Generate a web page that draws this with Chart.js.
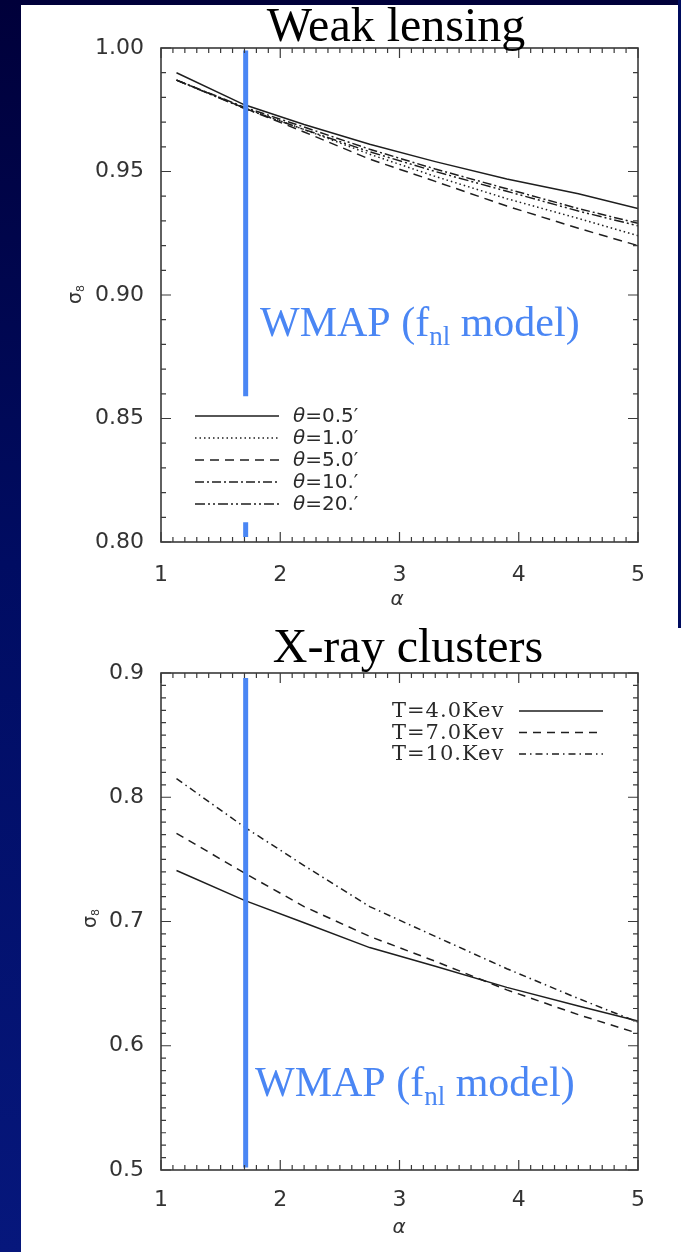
<!DOCTYPE html>
<html>
<head>
<meta charset="utf-8">
<script src="https://cdn.jsdelivr.net/npm/chart.js@4.4.1/dist/chart.umd.min.js"></script>
<style>
    html, body { margin: 0; padding: 0; }
    body {
        width: 681px; height: 1252px; overflow: hidden; position: relative;
        background: linear-gradient(to bottom, #00003a 0%, #000c62 45%, #06177c 100%);
    }
    #paper { position: absolute; left: 21px; top: 5px; width: 660px; height: 1247px; background: #fff; }
    #edge { position: absolute; left: 678px; top: 0; width: 3px; height: 628px; background: #000c5e; }
    .box { position: absolute; left: 0; width: 681px; }
    #wlBox { top: 0; height: 628px; }
    #xrBox { top: 628px; height: 624px; }
</style>
</head>
<body>
<div id="paper"></div>
<div id="edge"></div>
<div class="box" id="wlBox"><canvas id="wlChart"></canvas></div>
<div class="box" id="xrBox"><canvas id="xrChart"></canvas></div>
<script>
// alpha grid shared by both panels
const alpha = [1.13, 1.7, 2.2, 2.75, 3.3, 3.9, 4.5, 5.0];

// Weak lensing: sigma_8 vs alpha for several smoothing scales
const theta05 = [0.990, 0.977, 0.969, 0.961, 0.954, 0.947, 0.941, 0.935];
const theta1 = [0.987, 0.9757, 0.967, 0.957, 0.948, 0.939, 0.931, 0.924];
const theta5 = [0.987, 0.9757, 0.966, 0.955, 0.946, 0.936, 0.927, 0.920];
const theta10 = [0.987, 0.976, 0.968, 0.959, 0.951, 0.943, 0.935, 0.929];
const theta20 = [0.987, 0.9755, 0.967, 0.958, 0.950, 0.942, 0.934, 0.928];
const thetaLabels = ['θ=0.5′', 'θ=1.0′', 'θ=5.0′', 'θ=10.′', 'θ=20.′'];

// X-ray clusters: sigma_8 vs alpha for several temperatures
const kev4 = [0.741, 0.717, 0.699, 0.679, 0.664, 0.647, 0.632, 0.620];
const kev7 = [0.771, 0.739, 0.712, 0.688, 0.668, 0.645, 0.625, 0.610];
const kev10 = [0.815, 0.776, 0.745, 0.712, 0.688, 0.662, 0.638, 0.619];
const kevLabels = ['T=4.0Kev', 'T=7.0Kev', 'T=10.Kev'];

// WMAP constraint (vertical band at fixed alpha)
const wmapAlpha = 1.71;
const wlWmapY = [0.999, 0.859, null, 0.808, 0.802];
const xrWmapY = [0.896, 0.502];

// tick labels
const xTicks = [1, 2, 3, 4, 5];
const wlYTicks = [0.80, 0.85, 0.90, 0.95, 1.00];
const xrYTicks = [0.5, 0.6, 0.7, 0.8, 0.9];

const INK = '#1e1e1e';
const BLUE = '#4a86f4';

function xy(ys) {
    return alpha.map((a, i) => ({ x: a, y: ys[i] }));
}

function wmapSet(ys) {
    return {
        data: ys.map(v => ({ x: wmapAlpha, y: v })),
        borderColor: BLUE, borderWidth: 5, borderCapStyle: 'butt',
        pointRadius: 0, spanGaps: false, isWmap: true
    };
}

function curve(label, ys, dash) {
    return {
        label: label, data: xy(ys), borderColor: INK, borderWidth: 1.5,
        borderDash: dash, pointRadius: 0, tension: 0
    };
}

// draw a run of text pieces with their own font / vertical shift
function drawPieces(ctx, pieces, x, y) {
    pieces.forEach(p => {
        ctx.font = p.font;
        ctx.fillText(p.text, x, y + (p.dy || 0));
        x += ctx.measureText(p.text).width;
    });
}

const framePlugin = {
    id: 'frame',
    afterDraw(chart, args, o) {
        const { ctx, chartArea: a, scales: { x, y } } = chart;
        ctx.save();

        // axis box
        ctx.strokeStyle = '#3a3a3a';
        ctx.lineWidth = 1.6;
        ctx.strokeRect(a.left, a.top, a.right - a.left, a.bottom - a.top);

        // inward major / minor ticks on all four sides
        ctx.lineWidth = 1.2;
        ctx.beginPath();
        const isMajor = (v, step) => Math.abs(v / step - Math.round(v / step)) < 1e-6;
        const nx = Math.round((x.max - x.min) / o.xMinor);
        for (let i = 0; i <= nx; i++) {
            const v = x.min + i * o.xMinor;
            const px = x.getPixelForValue(v);
            const len = isMajor(v, o.xMajor) ? 10 : 5;
            ctx.moveTo(px, a.bottom); ctx.lineTo(px, a.bottom - len);
            ctx.moveTo(px, a.top); ctx.lineTo(px, a.top + len);
        }
        const ny = Math.round((y.max - y.min) / o.yMinor);
        for (let i = 0; i <= ny; i++) {
            const v = y.min + i * o.yMinor;
            const py = y.getPixelForValue(v);
            const len = isMajor(v, o.yMajor) ? 10 : 5;
            ctx.moveTo(a.left, py); ctx.lineTo(a.left + len, py);
            ctx.moveTo(a.right, py); ctx.lineTo(a.right - len, py);
        }
        ctx.stroke();

        // axis titles
        ctx.fillStyle = '#333';
        ctx.textBaseline = 'middle';
        ctx.textAlign = 'center';
        ctx.font = 'italic 20px "DejaVu Sans"';
        ctx.fillText('α', o.xTitle[0], o.xTitle[1]);
        ctx.save();
        ctx.translate(o.yTitle[0], o.yTitle[1]);
        ctx.rotate(-Math.PI / 2);
        ctx.textAlign = 'left';
        drawPieces(ctx, [
            { text: 'σ', font: '19px "DejaVu Sans"' },
            { text: '8', font: '11px "DejaVu Sans"', dy: 5 }
        ], -8, 0);
        ctx.restore();

        // legend
        ctx.textAlign = 'left';
        const curves = chart.data.datasets.filter(d => !d.isWmap);
        curves.forEach((d, i) => {
            const ry = o.legend.y0 + i * o.legend.dy;
            ctx.strokeStyle = INK;
            ctx.lineWidth = 1.4;
            ctx.setLineDash(d.borderDash || []);
            ctx.beginPath();
            ctx.moveTo(o.legend.lineX[0], ry);
            ctx.lineTo(o.legend.lineX[1], ry);
            ctx.stroke();
            ctx.setLineDash([]);
            ctx.fillStyle = '#2a2a2a';
            if (o.legend.greek) {
                drawPieces(ctx, [
                    { text: d.label.charAt(0), font: 'italic 20px "DejaVu Sans"' },
                    { text: d.label.slice(1), font: '20px "DejaVu Sans"' }
                ], o.legend.textX, ry + 1);
            } else {
                ctx.font = '21px "DejaVu Serif"';
                ctx.letterSpacing = '1px';
                ctx.fillText(d.label, o.legend.textX, ry + 1);
                ctx.letterSpacing = '0px';
            }
        });

        // WMAP annotation
        ctx.textBaseline = 'alphabetic';
        ctx.fillStyle = BLUE;
        drawPieces(ctx, [
            { text: 'WMAP (f', font: '42px "Liberation Serif"' },
            { text: 'nl', font: '27px "Liberation Serif"', dy: 9 },
            { text: ' model)', font: '42px "Liberation Serif"' }
        ], o.wmap[0], o.wmap[1]);

        // panel title
        ctx.fillStyle = '#000';
        ctx.textAlign = 'center';
        ctx.font = '48px "Liberation Serif"';
        ctx.fillText(o.title, o.titlePos[0], o.titlePos[1]);

        ctx.restore();
    }
};

function scalesFor(yTicks, digits, xHeight, xPad) {
    const tickFont = { family: 'DejaVu Sans', size: 22 };
    return {
        x: {
            type: 'linear', min: 1, max: 5,
            grid: { display: false }, border: { display: false },
            afterBuildTicks: s => { s.ticks = xTicks.map(v => ({ value: v })); },
            afterFit: s => { s.height = xHeight; },
            ticks: { padding: xPad, color: '#333', font: tickFont, maxRotation: 0,
                     callback: v => String(v) }
        },
        y: {
            type: 'linear', min: yTicks[0], max: yTicks[yTicks.length - 1],
            grid: { display: false }, border: { display: false },
            afterBuildTicks: s => { s.ticks = yTicks.map(v => ({ value: v })); },
            afterFit: s => { s.width = 161; },
            ticks: { padding: 9, color: '#333', font: tickFont,
                     callback: v => Number(v).toFixed(digits) }
        }
    };
}

// Weak lensing panel
new Chart(document.getElementById('wlChart'), {
    type: 'line',
    data: {
        datasets: [
            wmapSet(wlWmapY),
            curve(thetaLabels[0], theta05, []),
            curve(thetaLabels[1], theta1, [1.5, 3]),
            curve(thetaLabels[2], theta5, [9, 6]),
            curve(thetaLabels[3], theta10, [9, 3, 2, 3]),
            curve(thetaLabels[4], theta20, [10, 3, 2, 3, 2, 3])
        ]
    },
    options: {
        responsive: true, maintainAspectRatio: false, animation: false,
        layout: { padding: { top: 48, right: 43, bottom: 0, left: 0 } },
        scales: scalesFor(wlYTicks, 2, 86, 12),
        plugins: {
            legend: { display: false },
            tooltip: { enabled: false },
            frame: {
                xMinor: 0.1, xMajor: 1, yMinor: 0.01, yMajor: 0.05,
                xTitle: [397, 600], yTitle: [76, 296],
                legend: { y0: 416, dy: 22, lineX: [195, 279], textX: 293, greek: true },
                wmap: [260, 336],
                title: 'Weak lensing', titlePos: [396, 41]
            }
        }
    },
    plugins: [framePlugin]
});

// X-ray clusters panel
new Chart(document.getElementById('xrChart'), {
    type: 'line',
    data: {
        datasets: [
            wmapSet(xrWmapY),
            curve(kevLabels[0], kev4, []),
            curve(kevLabels[1], kev7, [8, 6]),
            curve(kevLabels[2], kev10, [7, 4, 1.5, 4])
        ]
    },
    options: {
        responsive: true, maintainAspectRatio: false, animation: false,
        layout: { padding: { top: 45, right: 43, bottom: 0, left: 0 } },
        scales: scalesFor(xrYTicks, 1, 82, 9),
        plugins: {
            legend: { display: false },
            tooltip: { enabled: false },
            frame: {
                xMinor: 0.1, xMajor: 1, yMinor: 0.01, yMajor: 0.1,
                xTitle: [399, 600], yTitle: [91, 292],
                legend: { y0: 83, dy: 21.5, lineX: [519, 603], textX: 392, greek: false },
                wmap: [255, 468],
                title: 'X-ray clusters', titlePos: [408, 34]
            }
        }
    },
    plugins: [framePlugin]
});
</script>
</body>
</html>
